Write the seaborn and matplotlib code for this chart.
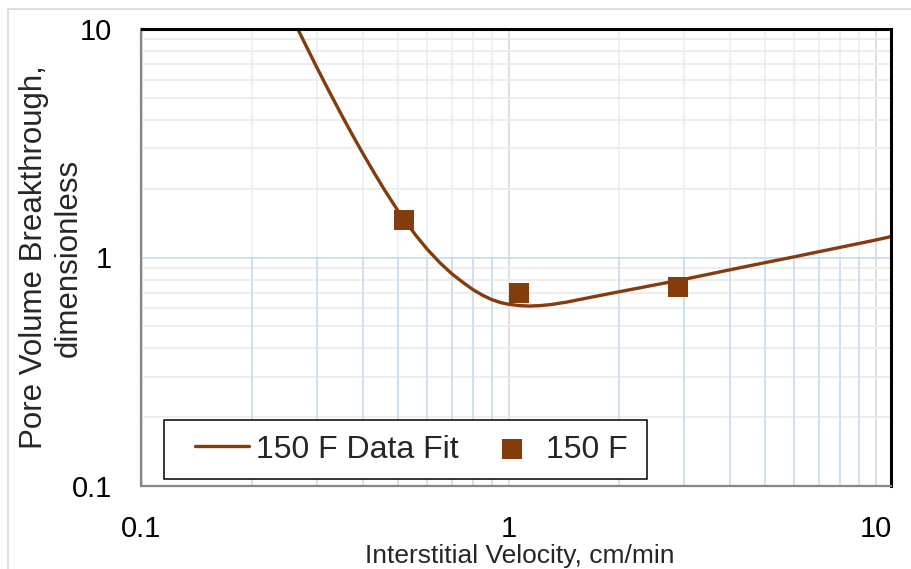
import matplotlib
matplotlib.use("Agg")
import matplotlib.pyplot as plt
from matplotlib.patches import Rectangle
from matplotlib.ticker import LogLocator, NullFormatter
import pandas as pd
import seaborn as sns

# Fitted breakthrough curve (interstitial velocity, cm/min -> pore volumes)
fit_velocity = [0.2665, 0.28, 0.30, 0.32, 0.35, 0.375, 0.40, 0.43, 0.46, 0.50,
                0.52, 0.56, 0.60, 0.65, 0.70, 0.75, 0.80, 0.85, 0.90, 0.95,
                1.00, 1.07, 1.14, 1.22, 1.30, 1.44, 1.70, 2.0, 2.4, 3.0,
                4.0, 5.0, 6.0, 7.0, 8.0, 9.0, 10.0, 11.0]
fit_pore_volume = [10.0, 8.51, 6.81, 5.56, 4.23, 3.45, 2.87, 2.35, 1.966, 1.596,
                   1.459, 1.244, 1.087, 0.948, 0.849, 0.779, 0.723, 0.683, 0.654, 0.635,
                   0.624, 0.616, 0.613, 0.616, 0.622, 0.638, 0.673, 0.708, 0.749, 0.802,
                   0.883, 0.950, 1.007, 1.060, 1.108, 1.152, 1.193, 1.234]

# Measured points at 150 F
test_velocity = [0.52, 1.065, 2.90]
test_pore_volume = [1.46, 0.70, 0.745]

x_ticks = [0.1, 1, 10]
x_tick_labels = ["0.1", "1", "10"]
y_ticks = [0.1, 1, 10]
y_tick_labels = ["0.1", "1", "10"]

fit_label = "150 F Data Fit"
test_label = "150 F"
brown = "#843C0C"

fit_df = pd.DataFrame({"velocity": fit_velocity, "pv": fit_pore_volume})
test_df = pd.DataFrame({"velocity": test_velocity, "pv": test_pore_volume})

sns.set_style("white")
plt.rcParams["font.family"] = ["Liberation Sans", "DejaVu Sans"]

W, H = 912, 569
fig = plt.figure(figsize=(W / 100, H / 100), dpi=100)
left, right, top, bottom = 141.5, 891.0, 29.0, 486.0
ax = fig.add_axes([left / W, 1 - bottom / H, (right - left) / W, (bottom - top) / H])

# Thin outer chart-area border
fig.patches.append(Rectangle((8 / W, -0.2), 1.5, (H - 9) / H + 0.2,
                             transform=fig.transFigure, fill=False,
                             ec="#d9d9d9", lw=1.2, zorder=0))

ax.set_xscale("log")
ax.set_yscale("log")

sns.lineplot(data=fit_df, x="velocity", y="pv", ax=ax, color=brown,
             linewidth=2.4, label=fit_label, sort=False, zorder=3)
sns.scatterplot(data=test_df, x="velocity", y="pv", ax=ax, color=brown,
                marker="s", s=190, linewidth=0, label=test_label, zorder=4)

ax.set_xlim(0.1, 11.0)
ax.set_ylim(0.1, 10)

# Ticks
ax.set_xticks(x_ticks, x_tick_labels)
ax.set_yticks(y_ticks, y_tick_labels)
ax.xaxis.set_minor_locator(LogLocator(base=10, subs=range(2, 10)))
ax.yaxis.set_minor_locator(LogLocator(base=10, subs=range(2, 10)))
ax.xaxis.set_minor_formatter(NullFormatter())
ax.yaxis.set_minor_formatter(NullFormatter())
ax.tick_params(axis="both", which="both", length=0)
ax.tick_params(axis="x", which="major", labelsize=21, pad=21, colors="black")
ax.tick_params(axis="y", which="major", labelsize=21, pad=21, colors="black")

# Gridlines
ax.set_axisbelow(True)
ax.xaxis.grid(True, which="major", color="#d9d9d9", lw=1.2)
ax.xaxis.grid(True, which="minor", color="#e6eef8", lw=1.1)
ax.yaxis.grid(True, which="major", color="#c5d9f1", lw=1.2)
ax.yaxis.grid(True, which="minor", color="#ececec", lw=1.3)
for xm in [k * 10.0 ** e for e in (-1, 0) for k in range(2, 10)]:
    ax.axvline(xm, ymin=0, ymax=0.5, color="#c9dcf1", lw=1.1, zorder=0.6)

# Frame
for side in ("top", "right"):
    ax.spines[side].set_color("black")
    ax.spines[side].set_linewidth(2.2)
for side in ("left", "bottom"):
    ax.spines[side].set_color("#868686")
    ax.spines[side].set_linewidth(1.6)
for sp in ax.spines.values():
    sp.set_zorder(5)

# Axis titles
ax.set_xlabel("Interstitial Velocity, cm/min", fontsize=19)
ax.xaxis.set_label_coords((520 - left) / (right - left), (bottom - 544) / (bottom - top))
ax.set_ylabel("Pore Volume Breakthrough,\ndimensionless", fontsize=22.5,
              linespacing=1.2, multialignment="center")
ax.yaxis.set_label_coords((84 - left) / (right - left), 0.5)

# Legend with a square white box
ax.add_patch(Rectangle(((164 - left) / (right - left), (bottom - 479) / (bottom - top)),
                       (647 - 164) / (right - left), (479 - 420) / (bottom - top),
                       transform=ax.transAxes, facecolor="white", edgecolor="black",
                       lw=1.1, zorder=6, clip_on=False))
handles, labels = ax.get_legend_handles_labels()
leg = ax.legend(handles, labels, ncol=2, frameon=False, fontsize=23,
                handlelength=1.7, handletextpad=0.22, columnspacing=0.8,
                borderpad=0, borderaxespad=0, loc="center left",
                bbox_to_anchor=((195 - left) / (right - left), (bottom - 449.5) / (bottom - top)))
leg.set_zorder(7)

fig.savefig("out.png", dpi=100, facecolor="white")
